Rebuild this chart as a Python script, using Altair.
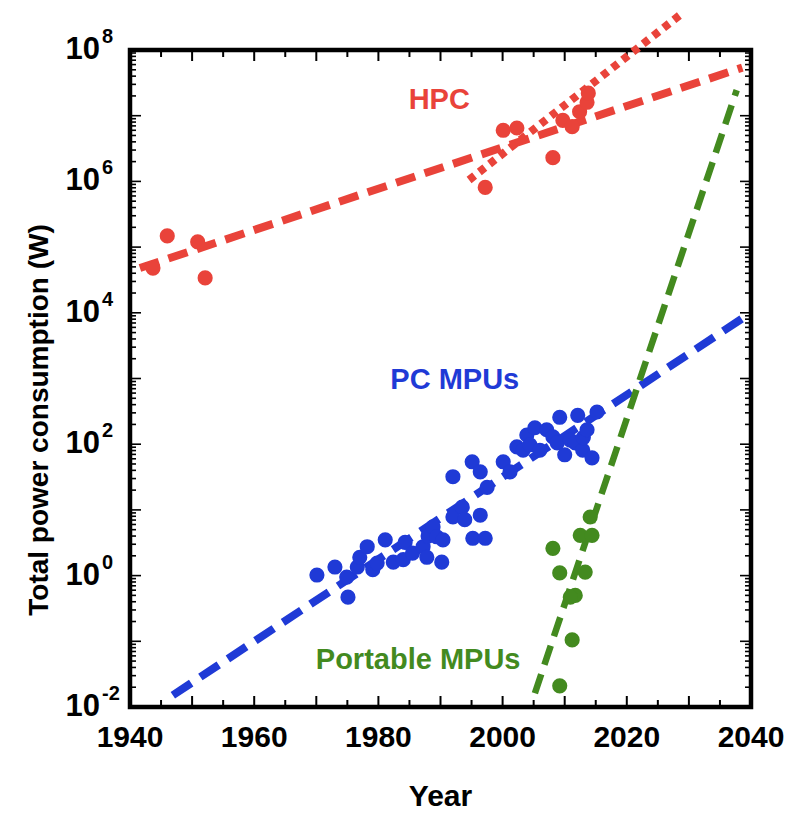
import altair as alt
import pandas as pd

# ---------------- data ----------------
hpc_year = [1943.7, 1946.0, 1950.9, 1952.1, 1997.2, 2000.1, 2002.3, 2008.1,
            2009.7, 2011.2, 2012.4, 2013.6, 2013.8]
hpc_w = [4.8e4, 1.48e5, 1.2e5, 3.4e4, 8.1e5, 6.0e6, 6.5e6, 2.3e6,
         8.5e6, 6.8e6, 1.15e7, 1.6e7, 2.2e7]

pc_year = [1970.1, 1973.0, 1975.1, 1974.9, 1976.6, 1977.0, 1978.2, 1979.1,
           1979.8, 1981.1, 1982.4, 1984.0, 1984.3, 1985.5, 1987.2, 1987.8,
           1988.0, 1988.8, 1989.4, 1990.2, 1990.4, 1992.0, 1993.5, 1993.9,
           1996.4, 1995.2, 1997.2, 1992.0, 1995.1, 1996.4, 1997.5, 2000.1,
           2001.2, 2002.3, 2003.3, 2003.9, 2004.4, 2005.2, 2006.0, 2007.1,
           2008.1, 2008.8, 2009.2, 2010.0, 2010.9, 2011.7, 2012.1, 2012.9,
           2013.0, 2013.6, 2014.4, 2015.2]
pc_w = [1.02, 1.35, 0.47, 0.95, 1.35, 1.9, 2.75, 1.23,
        1.55, 3.5, 1.6, 1.75, 3.2, 2.2, 2.75, 1.9,
        4.0, 5.5, 3.9, 1.6, 3.5, 7.8, 11, 7.1,
        8.3, 3.7, 3.7, 32, 54, 38, 22, 54,
        38, 91, 81, 138, 98, 178, 81, 166,
        129, 105, 257, 69, 115, 105, 275, 81,
        126, 166, 62, 309]

port_year = [2009.2, 2011.2, 2011.7, 2010.9, 2009.2, 2008.1, 2013.3, 2012.5,
             2014.4, 2014.1]
port_w = [0.021, 0.105, 0.50, 0.47, 1.1, 2.6, 1.13, 4.1, 4.1, 7.8]

# trend lines (end points)
hpc_fit_year = [1941.6, 2038.6]
hpc_fit_w = [4.8e4, 5.4e7]
hpc_recent_year = [1994.6, 2029.2]
hpc_recent_w = [1.05e6, 3.8e8]
pc_fit_year = [1946.9, 2039.0]
pc_fit_w = [0.0151, 8700]
port_fit_year = [2005.2, 2037.7]
port_fit_w = [0.0162, 2.45e7]

# annotations
ann_text = ["HPC", "PC MPUs", "Portable MPUs"]
ann_year = [1989.8, 1992.3, 1986.4]
ann_w = [1.74e7, 950, 0.052]
ann_color = ["#E9433A", "#1F3AD6", "#438A1F"]

# axis text and tick values
x_title = "Year"
y_title = "Total power consumption (W)"
x_label_values = [1940, 1960, 1980, 2000, 2020, 2040]
x_major_ticks = [1940, 1950, 1960, 1970, 1980, 1990, 2000, 2010, 2020, 2030, 2040]
x_minor_ticks = [1945, 1955, 1965, 1975, 1985, 1995, 2005, 2015, 2025, 2035]
y_label_exp = ["-2", "0", "2", "4", "6", "8"]
y_label_val = [1e-2, 1e0, 1e2, 1e4, 1e6, 1e8]
y_major_ticks = [10.0 ** e for e in range(-2, 9)]
y_minor_ticks = [k * 10.0 ** e for e in range(-2, 8) for k in range(2, 10)]

RED, BLUE, GREEN = "#E9433A", "#1F3AD6", "#438A1F"
FONT = "Liberation Sans"
W, H = 621, 657
PT = 230

xs = alt.Scale(domain=[1940, 2040], nice=False, zero=False)
ys = alt.Scale(type="log", domain=[0.01, 1e8], nice=False)


def X(field="year"):
    return alt.X(f"{field}:Q", scale=xs, axis=None)


def Y(field="w"):
    return alt.Y(f"{field}:Q", scale=ys, axis=None)


def pts(years, ws, color):
    df = pd.DataFrame({"year": years, "w": ws})
    return alt.Chart(df).mark_circle(size=PT, opacity=1, color=color).encode(x=X(), y=Y())


def fit(years, ws, color, dash, width):
    df = pd.DataFrame({"year": years, "w": ws})
    return alt.Chart(df).mark_line(color=color, strokeDash=dash, strokeWidth=width,
                                   strokeCap="butt", clip=False).encode(x=X(), y=Y())


# ticks (inward) on all four sides
def xticks(vals, length):
    df = pd.DataFrame({"year": vals})
    bottom = alt.Chart(df).mark_rule(color="black", strokeWidth=2).encode(
        x=X(), y=alt.value(H), y2=alt.value(H - length))
    top = alt.Chart(df).mark_rule(color="black", strokeWidth=2).encode(
        x=X(), y=alt.value(0), y2=alt.value(length))
    return [bottom, top]


def yticks(vals, length):
    df = pd.DataFrame({"w": vals})
    left = alt.Chart(df).mark_rule(color="black", strokeWidth=1.6).encode(
        y=Y(), x=alt.value(0), x2=alt.value(length))
    right = alt.Chart(df).mark_rule(color="black", strokeWidth=1.6).encode(
        y=Y(), x=alt.value(W), x2=alt.value(W - length))
    return [left, right]


ticks = (xticks(x_major_ticks, 11) + xticks(x_minor_ticks, 7)
         + yticks(y_major_ticks, 11) + yticks(y_minor_ticks, 6))

# x tick labels
xlab_df = pd.DataFrame({"year": x_label_values, "label": [str(v) for v in x_label_values]})
xlab = alt.Chart(xlab_df).mark_text(font=FONT, fontSize=30, fontWeight="bold", color="black",
                                    align="center", baseline="middle").encode(
    x=X(), y=alt.value(H + 31), text="label:N")

# y tick labels as 10 with superscript exponent
ylab_df = pd.DataFrame({"w": y_label_val, "exp": y_label_exp})
ylab_base = alt.Chart(ylab_df).mark_text(text="10", font=FONT, fontSize=31, fontWeight="bold",
                                         color="black", align="right", baseline="middle").encode(
    y=Y(), x=alt.value(-30))
ylab_exp = alt.Chart(ylab_df).mark_text(font=FONT, fontSize=20, fontWeight="bold",
                                        color="black", align="left", baseline="middle",
                                        dy=-13).encode(
    y=Y(), x=alt.value(-28), text="exp:N")

# axis titles
xt = alt.Chart(pd.DataFrame({"t": [x_title]})).mark_text(
    font=FONT, fontSize=30, fontWeight="bold", color="black", align="center",
    baseline="middle").encode(x=alt.value(W / 2), y=alt.value(H + 90), text="t:N")
yt = alt.Chart(pd.DataFrame({"t": [y_title]})).mark_text(
    font=FONT, fontSize=28, fontWeight="bold", color="black", align="center",
    baseline="middle", angle=270).encode(x=alt.value(-90), y=alt.value(370), text="t:N")

ann_df = pd.DataFrame({"year": ann_year, "w": ann_w, "label": ann_text, "color": ann_color})
ann = alt.Chart(ann_df).mark_text(font=FONT, fontSize=29, fontWeight="bold",
                                  align="center", baseline="middle").encode(
    x=X(), y=Y(), text="label:N", color=alt.Color("color:N", scale=None),
)

layers = ticks + [
    fit(hpc_fit_year, hpc_fit_w, RED, [20, 10], 8),
    fit(hpc_recent_year, hpc_recent_w, RED, [7, 6], 8),
    fit(pc_fit_year, pc_fit_w, BLUE, [22, 11], 8),
    fit(port_fit_year, port_fit_w, GREEN, [20, 10], 6.5),
    pts(pc_year, pc_w, BLUE),
    pts(port_year, port_w, GREEN),
    pts(hpc_year, hpc_w, RED),
    xlab, ylab_base, ylab_exp, xt, yt, ann,
]

chart = alt.layer(*layers).properties(
    width=W, height=H,
    autosize=alt.AutoSizeParams(type="none"),
    padding={"left": 130, "top": 50, "right": 800 - 130 - W, "bottom": 814 - 50 - H},
    background="white",
).configure_view(stroke="black", strokeWidth=4.5)

chart.save("out.html", embed_options={"renderer": "svg", "actions": False})
